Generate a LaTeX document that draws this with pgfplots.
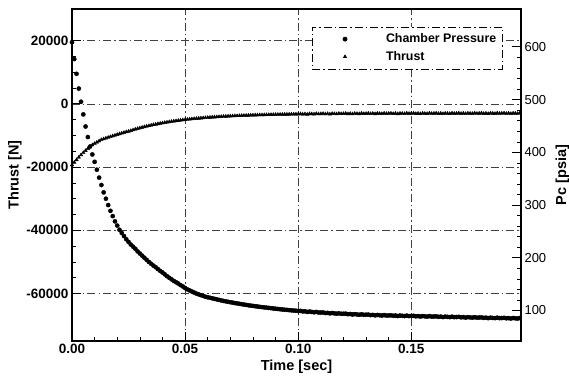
\documentclass[border=0pt]{standalone}
\usepackage{fontspec}
\setmainfont{Liberation Sans}
\usepackage{pgfplots}
\usepackage{pgfplotstable}
\pgfplotsset{compat=1.18}
\pgfplotstableread{
t T P
0.000 -19300 609
0.001 -18500 577
0.002 -17700 549
0.003 -16900 521
0.004 -16150 496
0.005 -15450 472
0.006 -14800 449
0.007 -14150 429
0.008 -13500 411
0.009 -13000 396
0.010 -12550 382
0.011 -12150 367
0.012 -11750 352
0.013 -11350 338
0.014 -11100 324
0.015 -10860 312
0.016 -10630 300
0.017 -10400 289
0.018 -10170 279
0.019 -9940 269
0.020 -9710 261
0.021 -9490 253
0.022 -9280 247
0.023 -9070 241
0.024 -8870 235
0.025 -8700 230
0.026 -8484 225
0.027 -8261 221
0.028 -8046 217
0.029 -7840 212
0.030 -7643 208
0.031 -7453 204
0.032 -7272 200
0.033 -7097 196
0.034 -6930 192
0.035 -6770 188.5
0.036 -6616 185
0.037 -6469 182
0.038 -6327 178.5
0.039 -6191 175
0.040 -6061 172
0.041 -5936 168.5
0.042 -5816 165
0.043 -5702 162
0.044 -5591 159
0.045 -5486 156
0.046 -5384 153.5
0.047 -5287 151
0.048 -5193 148
0.049 -5104 145.5
0.050 -5018 142.5
0.051 -4936 140
0.052 -4857 138
0.053 -4781 136
0.054 -4708 134
0.055 -4638 132
0.056 -4572 130.5
0.057 -4508 129
0.058 -4446 127.5
0.059 -4387 126
0.060 -4331 125
0.061 -4276 124
0.062 -4224 123
0.063 -4174 122
0.064 -4126 121
0.065 -4080 120
0.066 -4036 119
0.067 -3994 118
0.068 -3954 117.2
0.069 -3915 116.4
0.070 -3877 115.6
0.071 -3841 114.8
0.072 -3807 114
0.073 -3774 113.3
0.074 -3742 112.6
0.075 -3712 111.9
0.076 -3683 111.2
0.077 -3655 110.5
0.078 -3629 109.8
0.079 -3603 109.2
0.080 -3578 108.6
0.081 -3555 108
0.082 -3532 107.4
0.083 -3510 106.8
0.084 -3490 106.3
0.085 -3470 105.8
0.086 -3450 105.3
0.087 -3432 104.8
0.088 -3414 104.3
0.089 -3397 103.8
0.090 -3381 103.3
0.091 -3366 102.8
0.092 -3351 102.3
0.093 -3336 101.8
0.094 -3323 101.4
0.095 -3310 101
0.096 -3297 100.6
0.097 -3285 100.2
0.098 -3273 99.8
0.099 -3262 99.4
0.100 -3251 99
0.101 -3161 99.2
0.102 -3291 98.1
0.103 -3192 98.3
0.104 -3313 97.2
0.105 -3154 97.9
0.106 -3196 97.2
0.107 -3258 96.5
0.108 -3090 97.2
0.109 -3203 96.1
0.110 -3146 96.1
0.111 -3079 96.2
0.112 -3212 95.1
0.113 -3116 95.4
0.114 -3240 94.4
0.115 -3084 95.1
0.116 -3129 94.5
0.117 -3194 93.8
0.118 -3029 94.6
0.119 -3144 93.6
0.120 -3089 93.7
0.121 -3025 93.9
0.122 -3161 92.9
0.123 -3067 93.2
0.124 -3193 92.2
0.125 -3040 93
0.126 -3086 92.4
0.127 -3153 91.8
0.128 -2990 92.7
0.129 -3107 91.7
0.130 -3054 91.9
0.131 -2991 92.1
0.132 -3129 91.2
0.133 -3036 91.5
0.134 -3164 90.6
0.135 -3011 91.4
0.136 -3059 90.9
0.137 -3127 90.3
0.138 -2965 91.2
0.139 -3083 90.3
0.140 -3031 90.5
0.141 -2969 90.8
0.142 -3108 89.9
0.143 -3017 90.3
0.144 -3146 89.4
0.145 -2995 90.3
0.146 -3044 89.8
0.147 -3113 89.3
0.148 -2952 90.2
0.149 -3071 89.3
0.150 -3020 89.5
0.151 -2959 89.8
0.152 -3098 88.9
0.153 -3007 89.3
0.154 -3136 88.4
0.155 -2985 89.3
0.156 -3034 88.8
0.157 -3103 88.3
0.158 -2942 89.2
0.159 -3061 88.3
0.160 -3010 88.5
0.161 -2949 88.8
0.162 -3088 87.9
0.163 -2997 88.3
0.164 -3126 87.4
0.165 -2975 88.3
0.166 -3024 87.8
0.167 -3093 87.3
0.168 -2932 88.2
0.169 -3051 87.3
0.170 -3000 87.5
0.171 -2939 87.8
0.172 -3078 86.9
0.173 -2987 87.3
0.174 -3116 86.4
0.175 -2965 87.3
0.176 -3014 86.8
0.177 -3083 86.3
0.178 -2922 87.2
0.179 -3041 86.3
0.180 -2990 86.5
0.181 -2929 86.8
0.182 -3068 85.9
0.183 -2977 86.3
0.184 -3106 85.4
0.185 -2955 86.3
0.186 -3004 85.8
0.187 -3073 85.4
0.188 -2912 86.3
0.189 -3031 85.4
0.190 -2980 85.6
0.191 -2919 86
0.192 -3058 85.1
0.193 -2967 85.5
0.194 -3096 84.6
0.195 -2945 85.6
0.196 -2994 85.1
0.197 -3063 84.6
0.198 -2902 85.6
0.199 -3021 84.7
}\data

\begin{document}
\begin{tikzpicture}
\pgfplotsset{
  gridpat/.style={black!75, line width=0.5pt, dash pattern=on 8pt off 3pt on 1.5pt off 3pt},
  limg/.style={legend image code/.code={\path[draw=none,fill=none] (0pt,-3pt) rectangle (68pt,3pt);\draw[mark repeat=2,mark phase=2,##1] plot coordinates {(0pt,0pt)(29pt,0pt)(68pt,0pt)};}},
  common/.style={
    scale only axis, width=449pt, height=332pt,
    xmin=0, xmax=0.1985,
    axis line style={line width=1.2pt},
    tick align=inside,
    major tick length=9pt, minor tick length=4pt,
    every tick/.style={black, line width=0.9pt},
    every minor tick/.style={black, line width=0.6pt},
    clip=true,
  }
}
\begin{axis}[common, name=ax,
  ymin=-75000, ymax=30000,
  xtick={0,0.05,0.1,0.15}, xticklabels={0.00,0.05,0.10,0.15},
  minor x tick num=4,
  ytick={-60000,-40000,-20000,0,20000},
  yticklabels={-60000,-40000,-20000,0,20000},
  minor y tick num=3,
  xtick pos=bottom, ytick pos=left,
  grid=major, major grid style={gridpat},
  ticklabel style={font=\fontsize{13.5}{15}\selectfont\bfseries},
  xlabel={Time [sec]}, ylabel={Thrust [N]},
  label style={font=\fontsize{14.5}{16}\selectfont\bfseries},
  xlabel style={yshift=1pt},
  ylabel style={yshift=-2pt},
]
\addplot[only marks, mark=triangle*, mark size=2pt, mark options={solid, fill=black, draw=black}] table[x=t, y=T]{\data};
\end{axis}
\begin{axis}[common,
  ymin=42, ymax=672,
  axis x line=none, axis y line*=right,
  xtick=\empty,
  ytick={100,200,300,400,500,600},
  minor y tick num=4,
  yticklabel pos=right,
  /pgf/number format/assume math mode=true,
  ticklabel style={font=\fontsize{13}{15}\selectfont},
  ylabel={Pc [psia]},
  label style={font=\fontsize{14.5}{16}\selectfont\bfseries},
  ylabel style={yshift=-2.5pt},
  legend style={at={(0.959,0.947)}, anchor=north east, draw=black, line width=0.6pt,
    dash pattern=on 8pt off 3pt on 1.5pt off 3pt, fill=white,
    font=\fontsize{12.4}{14}\selectfont\bfseries, inner xsep=4pt, inner ysep=5pt, row sep=3pt},
  legend cell align=left,
]
\addplot[only marks, limg, mark=*, mark size=2.1pt, mark options={solid, fill=black, draw=black}] table[x=t, y=P]{\data};
\addlegendentry{Chamber Pressure}
\addlegendimage{only marks, limg, mark=triangle*, mark size=1.7pt, mark options={solid, fill=black, draw=black}}
\addlegendentry{Thrust}
\end{axis}
\pgfresetboundingbox
\path ([xshift=-72pt,yshift=-34pt]ax.south west) rectangle ([xshift=48pt,yshift=9pt]ax.north east);
\end{tikzpicture}
\end{document}
